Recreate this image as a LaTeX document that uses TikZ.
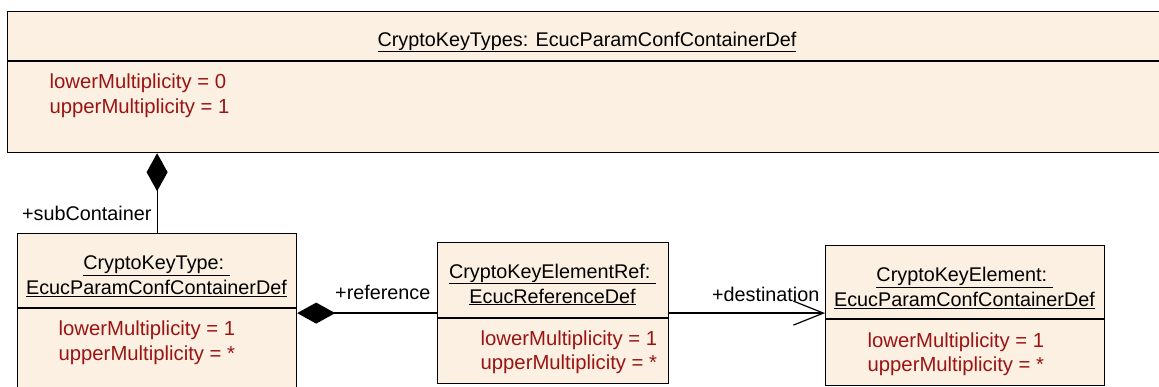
\documentclass[tikz,border=0pt]{standalone}
\usepackage{fontspec}
\setmainfont{Liberation Sans}
\usetikzlibrary{arrows.meta,positioning}
\definecolor{boxfill}{RGB}{251,240,225}
\definecolor{attrred}{RGB}{155,20,20}

\begin{document}
\begin{tikzpicture}[x=1pt,y=-1pt,line width=1.2pt,
            class box/.style={draw,fill=boxfill,anchor=north west,inner sep=0pt},
            title text/.style={align=center,inner sep=0pt,font=\fontsize{19.8}{25}\selectfont},
            attr text/.style={align=left,anchor=west,inner sep=0pt,text=attrred,font=\fontsize{20.3}{24.5}\selectfont},
            role text/.style={inner sep=0pt,font=\fontsize{19.8}{24}\selectfont},
            comp/.style={-{Diamond[length=38pt,width=21pt]}},
            nav/.style={-{Straight Barb[length=30pt,width=24pt]}}]

    \useasboundingbox (0,0) rectangle (1159,387);
    \clip (0,0) rectangle (1159,387);

    % top container
    \node[class box,minimum width=1170pt,minimum height=141pt] (types) at (7,11) {};
    \draw ([yshift=-50pt]types.north west) -- ([yshift=-50pt]types.north east);
    \node[title text] (typestitle) at (587,42) {\underline{CryptoKeyTypes: EcucParamConfContainerDef}};
    \node[attr text] (typesattr) at (49,96) {lowerMultiplicity = 0\\upperMultiplicity = 1};

    % sub container
    \node[class box,minimum width=279pt,minimum height=170pt] (ktype) at (17,233) {};
    \draw ([yshift=-75pt]ktype.north west) -- ([yshift=-75pt]ktype.north east);
    \node[title text] (ktypetitle) at (156.5,276) {\underline{CryptoKeyType:~}\\\underline{EcucParamConfContainerDef}};
    \node[attr text] (ktypeattr) at (58,343) {lowerMultiplicity = 1\\upperMultiplicity = *};

    % reference
    \node[class box,minimum width=231pt,minimum height=141pt] (kref) at (437,242) {};
    \draw ([yshift=-76pt]kref.north west) -- ([yshift=-76pt]kref.north east);
    \node[title text] (kreftitle) at (552.5,284.5) {\underline{CryptoKeyElementRef:~}\\\underline{EcucReferenceDef}};
    \node[attr text] (krefattr) at (480,352.5) {lowerMultiplicity = 1\\upperMultiplicity = *};

    % destination
    \node[class box,minimum width=279pt,minimum height=140pt] (kelem) at (825,245) {};
    \draw ([yshift=-74pt]kelem.north west) -- ([yshift=-74pt]kelem.north east);
    \node[title text] (kelemtitle) at (964.5,288) {\underline{CryptoKeyElement:~}\\\underline{EcucParamConfContainerDef}};
    \node[attr text] (kelemattr) at (867,354.5) {lowerMultiplicity = 1\\upperMultiplicity = *};

    % connectors
    \draw[comp] (ktype.north) -- (ktype.north |- types.south);
    \node[role text,above left=12pt and 5pt of ktype.north] (sublabel) {+subContainer};

    \draw[comp] (kref.west) -- (kref.west -| ktype.east);
    \node[role text,above left=13pt and 6pt of kref.west] (reflabel) {+reference};

    \coordinate (destend) at (kref.east -| kelem.west);
    \draw[nav] (kref.east) -- (destend);
    \node[role text,above left=11pt and 5pt of destend] (destlabel) {+destination};
\end{tikzpicture}
\end{document}
